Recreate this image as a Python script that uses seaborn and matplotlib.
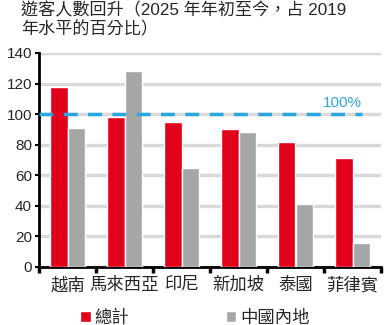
import matplotlib
matplotlib.use("Agg")
import matplotlib.pyplot as plt
import seaborn as sns
import pandas as pd
import numpy as np

categories = ["越南", "馬來西亞", "印尼", "新加坡", "泰國", "菲律賓"]
total_vals = [118, 98, 95, 90, 82, 71]
mainland_vals = [91, 128, 65, 88, 41, 16]
series_names = ["總計", "中國內地"]
yticks = [0, 20, 40, 60, 80, 100, 120, 140]
ref_value = 100
title = "遊客人數回升（2025 年年初至今，占 2019\n年水平的百分比）"

sns.set_theme(style="white")
plt.rcParams['font.family'] = ['Liberation Sans', 'Noto Sans CJK TC', 'DejaVu Sans']

df = pd.DataFrame({
    "cat": categories * 2,
    "series": [series_names[0]] * len(categories) + [series_names[1]] * len(categories),
    "val": total_vals + mainland_vals,
})

fig = plt.figure(figsize=(3.91, 3.25), dpi=100)
ax = fig.add_axes([39/391, 1-267/325, (381-39)/391, (267-53)/325])

ax.grid(axis="y", color="#d9d9d9", linewidth=2.5, zorder=0)
ax.set_axisbelow(True)

sns.barplot(data=df, x="cat", y="val", hue="series", order=categories,
            hue_order=series_names, palette=["#e2001a", "#a6a6a6"],
            width=0.6, gap=0, saturation=1, ax=ax, zorder=3)

ax.axhline(ref_value, xmin=0, xmax=0.945, color="#29a8e0", linewidth=2.5,
           linestyle=(0, (4, 3)), zorder=4)
ax.text(4.82, ref_value + 2.5, "100%", color="#29a8e0", fontsize=11,
        ha="center", va="bottom", zorder=5)

ax.set_ylim(0, 140)
ax.set_xlim(-0.5, 5.5)
ax.set_yticks(yticks)
ax.tick_params(axis="y", labelsize=11, length=3, width=1.5, color="black", pad=2, left=True)
ax.set_xticks(range(len(categories)))
ax.set_xticklabels(categories)
ax.tick_params(axis="x", which="major", length=0, labelsize=12.5, pad=7)
ax.set_xticks(np.arange(-0.5, len(categories) + 0.5, 1), minor=True)
ax.tick_params(axis="x", which="minor", length=4, width=2.5, color="black", direction="out", bottom=True)
ax.set_xlabel("")
ax.set_ylabel("")

for s in ["top", "right"]:
    ax.spines[s].set_visible(False)
for s in ["left", "bottom"]:
    ax.spines[s].set_color("black")
    ax.spines[s].set_linewidth(2)

leg = ax.legend(loc="upper left", bbox_to_anchor=(0.1, -0.165), ncol=2,
                frameon=False, fontsize=12.5, handlelength=0.6, handleheight=0.6,
                handletextpad=0.2, columnspacing=5.6, borderaxespad=0)

fig.text(21/391, 1-2/325, title, fontsize=12.3, ha="left", va="top", linespacing=1.2)

fig.savefig("out.png", dpi=100)
